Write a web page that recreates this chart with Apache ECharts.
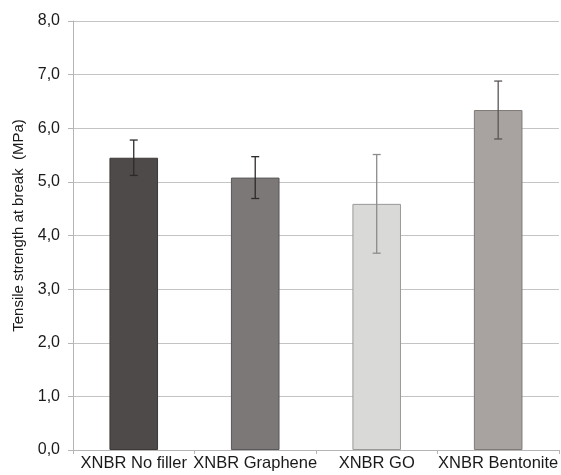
<!DOCTYPE html>
<html>
<head>
<meta charset="utf-8">
<script src="https://cdn.jsdelivr.net/npm/echarts@6/dist/echarts.min.js"></script>
<style>
  html, body { margin: 0; padding: 0; background: #ffffff; }
  #chart { width: 561px; height: 475px; }
</style>
</head>
<body>
<div id="chart"></div>
<script>
// Tensile strength at break of XNBR compounds with different fillers
const categories = ['XNBR No filler', 'XNBR Graphene', 'XNBR GO', 'XNBR Bentonite'];
const strength = [5.45, 5.08, 4.59, 6.34];
const strengthErr = [0.33, 0.39, 0.92, 0.54];
const barColors = ['#4f4a4a', '#7b7877', '#d9d9d7', '#a8a3a1'];
const barBorders = ['#3d3838', '#5a5858', '#9a9a98', '#807b79'];
const errColors = ['#2e2a2a', '#2e2a2a', '#8c8c8c', '#5a5656'];
const yTickLabels = ['0,0', '1,0', '2,0', '3,0', '4,0', '5,0', '6,0', '7,0', '8,0'];

const FONT = 'Liberation Sans, Arial, sans-serif';
const chart = echarts.init(document.getElementById('chart'), null, { renderer: 'canvas' });

const barData = strength.map((v, i) => ({
  value: v,
  itemStyle: { color: barColors[i], borderColor: barBorders[i], borderWidth: 1 }
}));

const errData = strength.map((v, i) => [i, v - strengthErr[i], v + strengthErr[i]]);

chart.setOption({
  animation: false,
  grid: { left: 73, right: 0, top: 21, bottom: 25 },
  xAxis: {
    type: 'category',
    data: categories,
    axisLine: { lineStyle: { color: '#b5b5b5' } },
    axisTick: { show: true, length: 4, lineStyle: { color: '#b5b5b5' } },
    axisLabel: {
      color: '#1a1a1a',
      fontFamily: FONT,
      fontSize: 16.5,
      margin: 5,
      interval: 0,
      hideOverlap: false
    }
  },
  yAxis: {
    type: 'value',
    min: 0,
    max: 8,
    interval: 1,
    name: 'Tensile strength at break  (MPa)',
    nameLocation: 'middle',
    nameGap: 45,
    nameRotate: 90,
    nameTextStyle: {
      color: '#1a1a1a',
      fontFamily: FONT,
      fontSize: 15,
      padding: [0, 0, 0, 20]
    },
    axisLine: { show: true, lineStyle: { color: '#b5b5b5' } },
    axisTick: { show: true, length: 5, lineStyle: { color: '#b5b5b5' } },
    axisLabel: {
      color: '#1a1a1a',
      fontFamily: FONT,
      fontSize: 16,
      margin: 13,
      formatter: (v) => yTickLabels[Math.round(v)]
    },
    splitLine: { show: true, lineStyle: { color: '#c4c4c4', width: 1 } }
  },
  series: [
    {
      type: 'bar',
      data: barData,
      barWidth: '40%'
    },
    {
      type: 'custom',
      data: errData,
      z: 10,
      renderItem: function (params, api) {
        const idx = api.value(0);
        const lo = api.coord([idx, api.value(1)]);
        const hi = api.coord([idx, api.value(2)]);
        const cap = 4;
        const stroke = errColors[params.dataIndex];
        const style = { stroke: stroke, lineWidth: 1.3 };
        return {
          type: 'group',
          children: [
            { type: 'line', shape: { x1: hi[0], y1: hi[1], x2: lo[0], y2: lo[1] }, style: style },
            { type: 'line', shape: { x1: hi[0] - cap, y1: hi[1], x2: hi[0] + cap, y2: hi[1] }, style: style },
            { type: 'line', shape: { x1: lo[0] - cap, y1: lo[1], x2: lo[0] + cap, y2: lo[1] }, style: style }
          ]
        };
      }
    }
  ]
});
</script>
</body>
</html>
